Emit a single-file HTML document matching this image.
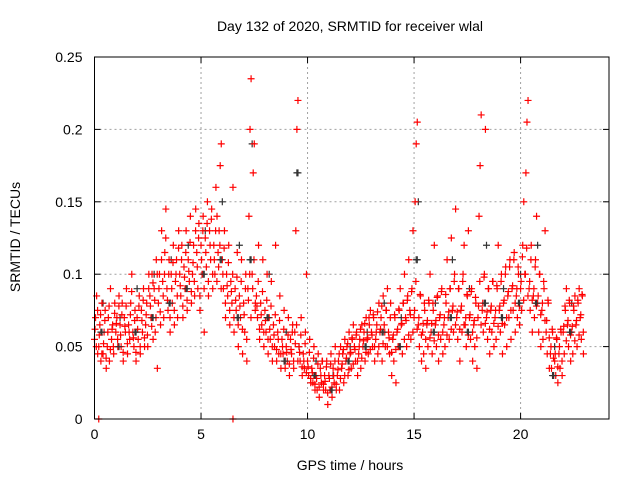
<!DOCTYPE html>
<html><head><meta charset="utf-8"><style>
body{margin:0;background:#fff}
svg text{font-family:"Liberation Sans",sans-serif;font-size:14px;fill:#000}
</style></head><body>
<svg id="c" width="640" height="480" xmlns="http://www.w3.org/2000/svg"></svg>
<script>
const xTicks=[0,5,10,15,20];
const yTicks=[0,0.05,0.1,0.15,0.2,0.25];
const yTickLabels=["0","0.05","0.1","0.15","0.2","0.25"];
const redT=[0.0,0.2,0.4,0.6,0.8,1.0,1.2,1.4,1.6,1.8,2.0,2.2,2.4,2.6,2.8,3.0,3.2,3.4,3.6,3.8,4.0,4.2,4.4,4.6,4.8,5.0,5.2,5.4,5.6,5.8,6.0,6.2,6.4,6.6,6.8,7.0,7.2,7.4,7.6,7.8,8.0,8.2,8.4,8.6,8.8,9.0,9.2,9.4,9.6,9.8,10.0,10.2,10.4,10.6,10.8,11.0,11.2,11.4,11.6,11.8,12.0,12.2,12.4,12.6,12.8,13.0,13.2,13.4,13.6,13.8,14.0,14.2,14.4,14.6,14.8,15.0,15.2,15.4,15.6,15.8,16.0,16.2,16.4,16.6,16.8,17.0,17.2,17.4,17.6,17.8,18.0,18.2,18.4,18.6,18.8,19.0,19.2,19.4,19.6,19.8,20.0,20.2,20.4,20.6,20.8,21.0,21.2,21.4,21.6,21.8,22.0,22.2,22.4,22.6,22.8];
const redV=[[.055,.07,.085,.045],[.05,.065,.04,.08],[.045,.06,.075,.035],[.05,.07,.04,.09],[.055,.065,.045,.08],[.06,.07,.05,.085],[.065,.05,.08,.04],[.07,.06,.09,.045],[.065,.055,.08,.1],[.06,.05,.075,.04],[.07,.055,.085,.045],[.075,.06,.09,.05],[.065,.08,.05,.1],[.085,.07,.1,.055],[.09,.06,.11,.035],[.08,.1,.065,.13],[.095,.07,.115,.145],[.09,.075,.11,.06],[.1,.08,.12,.065],[.095,.11,.07,.13],[.1,.085,.12,.07],[.105,.09,.13,.075],[.11,.095,.14,.08],[.1,.12,.085,.145],[.115,.09,.135,.075],[.12,.1,.14,.06],[.125,.105,.15,.085],[.13,.11,.145,.09],[.12,.1,.16,.14],[.115,.13,.175,.19],[.11,.09,.13,.07],[.1,.085,.12,.065],[.095,.08,.16,.06],[.09,.075,.115,.05],[.085,.07,.11,.045],[.08,.06,.1,.04],[.09,.14,.2,.235],[.1,.17,.19,.08],[.085,.07,.12,.055],[.08,.065,.11,.05],[.075,.06,.1,.045],[.07,.055,.095,.04],[.065,.05,.12,.04],[.06,.045,.085,.035],[.055,.045,.075,.035],[.05,.04,.07,.03],[.055,.045,.065,.035],[.06,.13,.2,.22],[.05,.04,.07,.03],[.045,.035,.06,.1],[.04,.03,.055,.025],[.035,.025,.05,.02],[.03,.02,.045,.015],[.035,.025,.04,.02],[.03,.02,.04,.01],[.03,.02,.045,.015],[.035,.025,.05,.02],[.03,.04,.02,.05],[.035,.045,.025,.055],[.04,.05,.03,.06],[.045,.035,.055,.065],[.05,.04,.06,.03],[.045,.055,.035,.065],[.05,.06,.04,.07],[.055,.045,.065,.075],[.06,.05,.07,.04],[.055,.065,.045,.08],[.06,.07,.04,.085],[.065,.05,.075,.09],[.06,.045,.08,.03],[.055,.04,.07,.025],[.06,.05,.075,.09],[.065,.045,.08,.1],[.07,.05,.085,.11],[.075,.055,.09,.13],[.07,.15,.19,.205],[.065,.05,.085,.04],[.06,.045,.075,.035],[.065,.05,.08,.1],[.06,.045,.075,.12],[.065,.05,.085,.04],[.07,.055,.09,.045],[.065,.05,.08,.11],[.07,.055,.09,.125],[.075,.06,.1,.145],[.07,.055,.09,.04],[.075,.06,.1,.12],[.065,.05,.085,.13],[.07,.055,.09,.04],[.065,.05,.08,.035],[.07,.14,.175,.21],[.075,.06,.1,.2],[.07,.055,.09,.045],[.075,.06,.095,.05],[.07,.055,.09,.12],[.075,.06,.1,.045],[.08,.065,.105,.05],[.085,.07,.11,.055],[.09,.075,.115,.06],[.085,.07,.1,.065],[.09,.075,.12,.15],[.1,.17,.205,.22],[.09,.075,.12,.06],[.085,.07,.11,.14],[.08,.06,.1,.05],[.075,.055,.09,.13],[.06,.045,.08,.035],[.045,.035,.06,.03],[.04,.03,.055,.025],[.045,.035,.06,.03],[.06,.045,.075,.09],[.065,.05,.08,.04],[.06,.045,.075,.085],[.065,.05,.08,.09],[.07,.055,.085,.045]];
const redV2=[[.062,.05,.075],[.058,.072,.045],[.052,.068,.042],[.06,.078,.048],[.062,.05,.073],[.066,.055,.078],[.058,.072,.046],[.064,.078,.052],[.06,.072,.088],[.056,.068,.046],[.062,.078,.05],[.068,.082,.056],[.072,.058,.09],[.078,.064,.094],[.082,.07,.1],[.09,.074,.11],[.085,.1,.125],[.082,.1,.07],[.09,.108,.075],[.1,.085,.118],[.092,.11,.078],[.098,.115,.082],[.102,.122,.088],[.108,.095,.13],[.105,.125,.085],[.11,.13,.09],[.115,.135,.095],[.12,.138,.1],[.11,.13,.095],[.105,.12,.09],[.1,.118,.08],[.092,.108,.075],[.088,.1,.07],[.082,.098,.065],[.078,.095,.062],[.072,.09,.055],[.082,.1,.07],[.09,.11,.075],[.078,.095,.062],[.072,.088,.06],[.068,.082,.055],[.062,.078,.05],[.058,.072,.048],[.055,.068,.045],[.05,.062,.04],[.046,.058,.038],[.048,.06,.04],[.052,.065,.04],[.046,.058,.036],[.04,.052,.032],[.036,.046,.028],[.032,.042,.024],[.028,.038,.022],[.03,.04,.024],[.026,.036,.018],[.028,.038,.022],[.03,.04,.024],[.034,.045,.028],[.038,.048,.03],[.042,.052,.034],[.046,.056,.038],[.048,.058,.04],[.05,.062,.042],[.054,.066,.046],[.056,.07,.048],[.058,.072,.05],[.06,.074,.05],[.062,.078,.052],[.06,.075,.05],[.056,.07,.046],[.058,.072,.048],[.062,.076,.05],[.066,.08,.055],[.068,.082,.058],[.072,.088,.06],[.075,.095,.062],[.07,.086,.058],[.066,.08,.055],[.068,.082,.056],[.066,.08,.054],[.068,.084,.058],[.072,.088,.06],[.07,.086,.058],[.074,.09,.062],[.078,.095,.065],[.074,.09,.062],[.078,.095,.065],[.07,.086,.058],[.072,.088,.06],[.068,.084,.056],[.078,.095,.065],[.08,.098,.066],[.074,.09,.062],[.078,.095,.066],[.075,.092,.064],[.078,.095,.066],[.082,.1,.07],[.088,.105,.075],[.092,.11,.08],[.09,.105,.078],[.095,.112,.082],[.1,.118,.085],[.095,.11,.082],[.09,.105,.078],[.085,.1,.072],[.08,.095,.068],[.068,.082,.056],[.05,.062,.042],[.045,.056,.036],[.05,.062,.04],[.064,.078,.054],[.068,.082,.058],[.064,.078,.054],[.068,.082,.058],[.072,.086,.06]];
const redExtraT=[0.2,6.5];
const redExtraV=[0,0];
const blackT=[0.3,1.1,1.9,2.7,3.5,4.3,5.1,5.9,6.7,7.3,8.1,8.9,9.5,10.3,11.1,11.9,12.7,13.5,14.3,15.1,15.9,16.7,17.5,18.3,19.1,19.9,20.7,21.5,22.3];
const blackV=[[.06,.08],[.05,.07],[.06,.09],[.07,.1],[.08,.11],[.09,.12],[.1,.13],[.11,.15],[.07,.12],[.11,.19],[.07,.1],[.04,.06],[.17,.05],[.03,.04],[.02,.03],[.04,.05],[.05,.06],[.06,.08],[.05,.07],[.11,.15],[.06,.08],[.07,.11],[.06,.09],[.08,.12],[.07,.09],[.08,.1],[.08,.12],[.03,.05],[.06,.08]];

const L=94.5,R=609,T=57,B=419,XMAX=24.15,YMAX=0.25;
const sx=v=>L+(R-L)*v/XMAX, sy=v=>B-(B-T)*v/YMAX;
const svg=document.getElementById('c');
const NS='http://www.w3.org/2000/svg';
function mk(tag,attrs){const e=document.createElementNS(NS,tag);for(const k in attrs)e.setAttribute(k,attrs[k]);svg.appendChild(e);return e;}
xTicks.forEach(v=>{const x=sx(v);
 if(v>0){const g=mk('line',{x1:x,x2:x,y1:T,y2:B,stroke:'#a0a0a0','stroke-dasharray':'2,3'});
 
 }
 mk('line',{x1:x,x2:x,y1:B,y2:B-6,stroke:'#000'});mk('line',{x1:x,x2:x,y1:T,y2:T+6,stroke:'#000'});
 const t=mk('text',{x:x,y:B+20,'text-anchor':'middle'});t.textContent=v;
 
 
});
yTicks.forEach((v,i)=>{const y=sy(v);
 if(v>0&&v<YMAX){const g=mk('line',{x1:L,x2:R,y1:y,y2:y,stroke:'#a0a0a0','stroke-dasharray':'2,3'});
 
 }
 mk('line',{x1:L,x2:L+6,y1:y,y2:y,stroke:'#000'});mk('line',{x1:R,x2:R-6,y1:y,y2:y,stroke:'#000'});
 const t=mk('text',{x:L-12,y:y+5,'text-anchor':'end'});t.textContent=yTickLabels[i];
 
 
});
function plus(x,y,c,name){const p=mk('path',{d:`M${x-3.5},${y}h7M${x},${y-3.5}v7`,stroke:c,'stroke-width':1.2,fill:'none'});
 
 }
blackT.forEach((t,i)=>blackV[i].forEach((v,k)=>plus(sx(t+k*0.1),sy(v),'#333','black-point')));
redT.forEach((t,i)=>redV[i].forEach((v,k)=>plus(sx(t+k*0.05),sy(v),'#ff0000','red-point')));
redT.forEach((t,i)=>redV2[i].forEach((v,k)=>plus(sx(t+0.025+k*0.06),sy(v),'#ff0000','red-point')));
redExtraT.forEach((t,i)=>plus(sx(t),sy(redExtraV[i]),'#ff0000','red-point'));
blackT.forEach((t,i)=>plus(sx(t+0.05),sy(blackV[i][0]),'#333','black-point'));
const fr=mk('rect',{x:L,y:T,width:R-L,height:B-T,fill:'none',stroke:'#000','stroke-width':1});


</script>
<div style="position:absolute;left:0;top:0;width:640px;height:480px;pointer-events:none;font-family:'Liberation Sans',sans-serif;font-size:14px">
<div style="position:absolute;top:18px;left:0;width:700px;text-align:center;white-space:nowrap">Day 132 of 2020, SRMTID for receiver wlal</div>
<div style="position:absolute;top:457px;left:0;width:700px;text-align:center;white-space:nowrap">GPS time / hours</div>
<div style="position:absolute;left:-65px;top:229px;width:160px;text-align:center;white-space:nowrap;transform:rotate(-90deg)">SRMTID / TECUs</div>
</div>
</body></html>
